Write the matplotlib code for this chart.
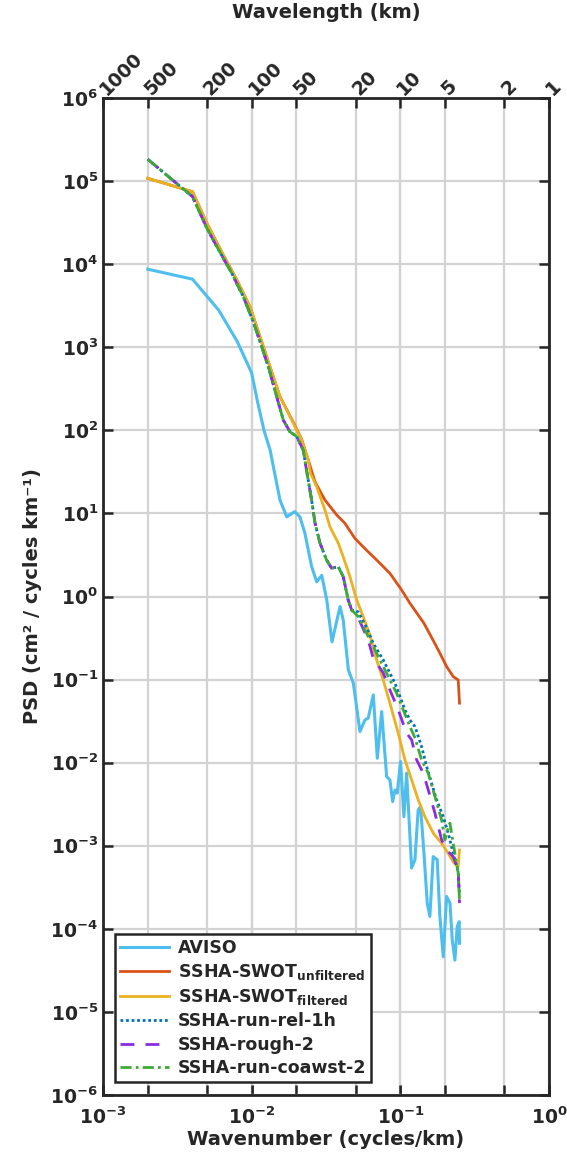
import numpy as np
import matplotlib
matplotlib.use("Agg")
import matplotlib.pyplot as plt
from matplotlib.ticker import FixedLocator, FixedFormatter, NullLocator, NullFormatter

plt.rcParams['font.family'] = ['DejaVu Sans']
plt.rcParams['font.weight'] = 'bold'
plt.rcParams['axes.labelweight'] = 'bold'
plt.rcParams['mathtext.fontset'] = 'dejavusans'

# wavenumber (cycles/km) and PSD (cm^2 / cycles km^-1)
k_aviso = [0.002, 0.004, 0.006, 0.008, 0.010, 0.0109, 0.0121, 0.0133, 0.0155, 0.0172,
           0.0195, 0.0211, 0.0228, 0.0253, 0.0274, 0.0296, 0.0320, 0.0347, 0.0393, 0.0413,
           0.0447, 0.0483, 0.0535, 0.0578, 0.0608, 0.0658, 0.0700, 0.0749, 0.0809, 0.0851,
           0.0888, 0.0920, 0.0953, 0.1004, 0.1057, 0.1102, 0.1191, 0.1254, 0.1318, 0.1368,
           0.1442, 0.1517, 0.158, 0.1664, 0.177, 0.1845, 0.1944, 0.2048, 0.2157, 0.2234,
           0.2328, 0.2415, 0.249, 0.25]
psd_aviso = [8.7e3, 6.6e3, 2.8e3, 1.17e3, 490, 230, 100, 58, 14.5, 9.1,
             10.5, 9.1, 5.8, 2.3, 1.5, 1.8, 0.91, 0.284, 0.757, 0.52,
             0.131, 0.0906, 0.0237, 0.0327, 0.0343, 0.0655, 0.0113, 0.0412, 0.0068, 0.0062,
             0.0034, 0.0047, 0.0043, 0.0103, 0.00224, 0.0075, 5.4e-4, 6.8e-4, 2.7e-3, 2.96e-3,
             8.1e-4, 2.04e-4, 1.41e-4, 7.4e-4, 6.8e-4, 1.41e-4, 4.6e-5, 2.45e-4, 2.04e-4, 7.4e-5,
             4.2e-5, 1.07e-4, 1.22e-4, 6.7e-5]

k_unfilt = [0.002, 0.004, 0.005, 0.00644, 0.00793, 0.00974, 0.01197, 0.01397, 0.0155, 0.01905,
            0.02168, 0.02402, 0.02665, 0.03111, 0.0373, 0.0424, 0.0495, 0.0593, 0.0693, 0.0851,
            0.1020, 0.1160, 0.1441, 0.1657, 0.1845, 0.2048, 0.2268, 0.2451, 0.25]
psd_unfilt = [1.08e5, 7.45e4, 3.1e4, 1.29e4, 6.5e3, 3.08e3, 1.02e3, 443, 255, 125,
              78, 44, 24.1, 14.5, 9.6, 7.6, 5.0, 3.6, 2.75, 1.9,
              1.2, 0.83, 0.477, 0.30, 0.208, 0.1435, 0.1086, 0.099, 0.052]

k_filt = [0.002, 0.004, 0.005, 0.00644, 0.00793, 0.00974, 0.01197, 0.01397, 0.0155, 0.01905,
          0.02168, 0.02402, 0.02485, 0.02735, 0.03111, 0.03362, 0.03823, 0.0413, 0.04584, 0.05083,
          0.05629, 0.06244, 0.06928, 0.0767, 0.0851, 0.0968, 0.1074, 0.1191, 0.1319, 0.1464,
          0.1664, 0.1895, 0.2090, 0.2293, 0.2451, 0.25]
psd_filt = [1.08e5, 7.45e4, 3.1e4, 1.29e4, 6.5e3, 3.08e3, 1.02e3, 443, 255, 122,
            76.6, 44, 30.5, 21, 11.0, 6.9, 4.4, 3.0, 1.73, 0.91,
            0.573, 0.345, 0.1726, 0.0991, 0.052, 0.0226, 0.0108, 0.0062, 0.00357, 0.00223,
            0.00142, 0.00107, 8.2e-4, 6.2e-4, 5.6e-4, 8.9e-4]

# the three model runs coincide at large scales
k_model_large = [0.002, 0.004, 0.005, 0.006, 0.00734, 0.00878, 0.01025, 0.01168, 0.01313, 0.01473,
                 0.01632, 0.0181, 0.0201, 0.0222, 0.0234, 0.0253, 0.0267, 0.0288, 0.0319, 0.0345,
                 0.0382, 0.0413, 0.0446, 0.0470]
psd_model_large = [1.83e5, 6.5e4, 2.7e4, 1.48e4, 7.8e3, 4.06e3, 2.03e3, 1.02e3, 533, 255,
                   133, 96, 84, 58, 33, 14.5, 7.6, 4.4, 2.75, 2.19,
                   2.29, 1.73, 0.91, 0.69]

k_rel_small = [0.0521, 0.0593, 0.0657, 0.0767, 0.0920, 0.1074, 0.1160, 0.1254, 0.1390, 0.1503,
               0.1623, 0.1754, 0.1943, 0.2100, 0.2268, 0.2451, 0.25]
psd_rel_small = [0.653, 0.419, 0.274, 0.1726, 0.0906, 0.0432, 0.0327, 0.0272, 0.0156, 0.00898,
                 0.00566, 0.00357, 0.00224, 0.00142, 8.1e-4, 4.85e-4, 2.56e-4]

k_rough_small = [0.0521, 0.0608, 0.0657, 0.0767, 0.0851, 0.0968, 0.1103, 0.1191, 0.1287, 0.1426,
                 0.1541, 0.1709, 0.1895, 0.2048, 0.2268, 0.2451, 0.25]
psd_rough_small = [0.553, 0.30, 0.181, 0.1205, 0.0752, 0.0432, 0.0226, 0.0188, 0.0108, 0.00748,
                   0.00471, 0.00247, 0.00118, 8.9e-4, 7.4e-4, 5.1e-4, 2.04e-4]

k_coawst_small = [0.0521, 0.0593, 0.0675, 0.0767, 0.0851, 0.0944, 0.1046, 0.1160, 0.1254, 0.1390,
                  0.1541, 0.1709, 0.1895, 0.1995, 0.2100, 0.2156, 0.2268, 0.2329, 0.2451, 0.25]
psd_coawst_small = [0.573, 0.361, 0.228, 0.1435, 0.0991, 0.0686, 0.0432, 0.0272, 0.0199, 0.0108,
                    0.00748, 0.00391, 0.00205, 0.00118, 0.00164, 0.00187, 0.00107, 8.1e-4, 4.7e-4, 2.23e-4]

wavelengths = [1000, 500, 200, 100, 50, 20, 10, 5, 2, 1]
y_exps = list(range(-6, 7))
x_exps = [-3, -2, -1, 0]

txt = '#262626'

fig = plt.figure(figsize=(5.67, 11.6), dpi=100)
ax = fig.add_axes([103 / 567, 1 - 1095 / 1160, 446 / 567, 997 / 1160])

ax.plot(k_aviso, psd_aviso, color='#4DBEEE', lw=2.2, label='AVISO')
ax.plot(k_unfilt, psd_unfilt, color='#D95319', lw=2.0,
        label=r'SSHA-SWOT$_{\mathbf{unfiltered}}$')
ax.plot(k_filt, psd_filt, color='#EDB120', lw=2.0,
        label=r'SSHA-SWOT$_{\mathbf{filtered}}$')
ax.plot(k_model_large + k_rel_small, psd_model_large + psd_rel_small, color='#0072BD',
        lw=2.0, ls=(0, (1, 1)), label='SSHA-run-rel-1h')
ax.plot(k_model_large + k_rough_small, psd_model_large + psd_rough_small, color='#8B2BE2',
        lw=2.0, ls=(0, (5, 4)), label='SSHA-rough-2')
ax.plot(k_model_large + k_coawst_small, psd_model_large + psd_coawst_small, color='#3DAA35',
        lw=2.0, ls=(0, (4, 1.5, 1, 1.5)), label='SSHA-run-coawst-2')

ax.set_xscale('log')
ax.set_yscale('log')
ax.set_xlim(1e-3, 1e0)
ax.set_ylim(1e-6, 1e6)

wl_pos = [1.0 / w for w in wavelengths]
ax.xaxis.set_major_locator(FixedLocator([10.0 ** e for e in x_exps]))
ax.xaxis.set_major_formatter(FixedFormatter([r'$\mathbf{10^{%d}}$' % e for e in x_exps]))
ax.xaxis.set_minor_locator(FixedLocator(wl_pos))
ax.xaxis.set_minor_formatter(NullFormatter())
ax.xaxis.remove_overlapping_locs = False
ax.yaxis.set_major_locator(FixedLocator([10.0 ** e for e in y_exps]))
ax.yaxis.set_major_formatter(FixedFormatter([r'$\mathbf{10^{%d}}$' % e for e in y_exps]))
ax.yaxis.set_minor_locator(NullLocator())

ax.tick_params(axis='both', which='both', direction='in', length=7, width=1.8,
               colors=txt, labelsize=13.5, top=False, right=True)
ax.tick_params(axis='x', which='major', pad=8)
ax.set_axisbelow(True)
ax.grid(True, which='both', axis='x', color='#d3d3d3', lw=1.6)
ax.grid(True, which='major', axis='y', color='#d3d3d3', lw=1.6)
for s in ax.spines.values():
    s.set_linewidth(2.0)
    s.set_color(txt)

ax.set_xlabel('Wavenumber (cycles/km)', fontsize=14, color=txt, labelpad=2)
ax.set_ylabel('PSD (cm² / cycles km⁻¹)', fontsize=14, color=txt, labelpad=6)

# wavelength axis on top
ax2 = ax.twiny()
ax2.set_xscale('log')
ax2.set_xlim(ax.get_xlim())
ax2.xaxis.set_major_locator(FixedLocator(wl_pos))
ax2.xaxis.set_major_formatter(FixedFormatter([str(w) for w in wavelengths]))
ax2.xaxis.set_minor_locator(NullLocator())
ax2.tick_params(axis='x', direction='in', length=7, width=1.8, colors=txt,
                labelsize=13.5, pad=4)
for lab in ax2.get_xticklabels():
    lab.set_rotation(45)
    lab.set_rotation_mode('anchor')
    lab.set_ha('left')
    lab.set_va('center')
ax2.set_xlabel('Wavelength (km)', fontsize=14, color=txt, labelpad=22)
for s in ax2.spines.values():
    s.set_visible(False)

leg = ax.legend(loc='lower left', bbox_to_anchor=(0.027, 0.013), borderaxespad=0,
                fontsize=12.5, handlelength=2.8, handletextpad=0.5, labelspacing=0.3,
                borderpad=0.3, fancybox=False, framealpha=1)
leg.get_frame().set_edgecolor(txt)
leg.get_frame().set_linewidth(1.8)
for t in leg.get_texts():
    t.set_color(txt)

fig.savefig('out.png', dpi=100)
